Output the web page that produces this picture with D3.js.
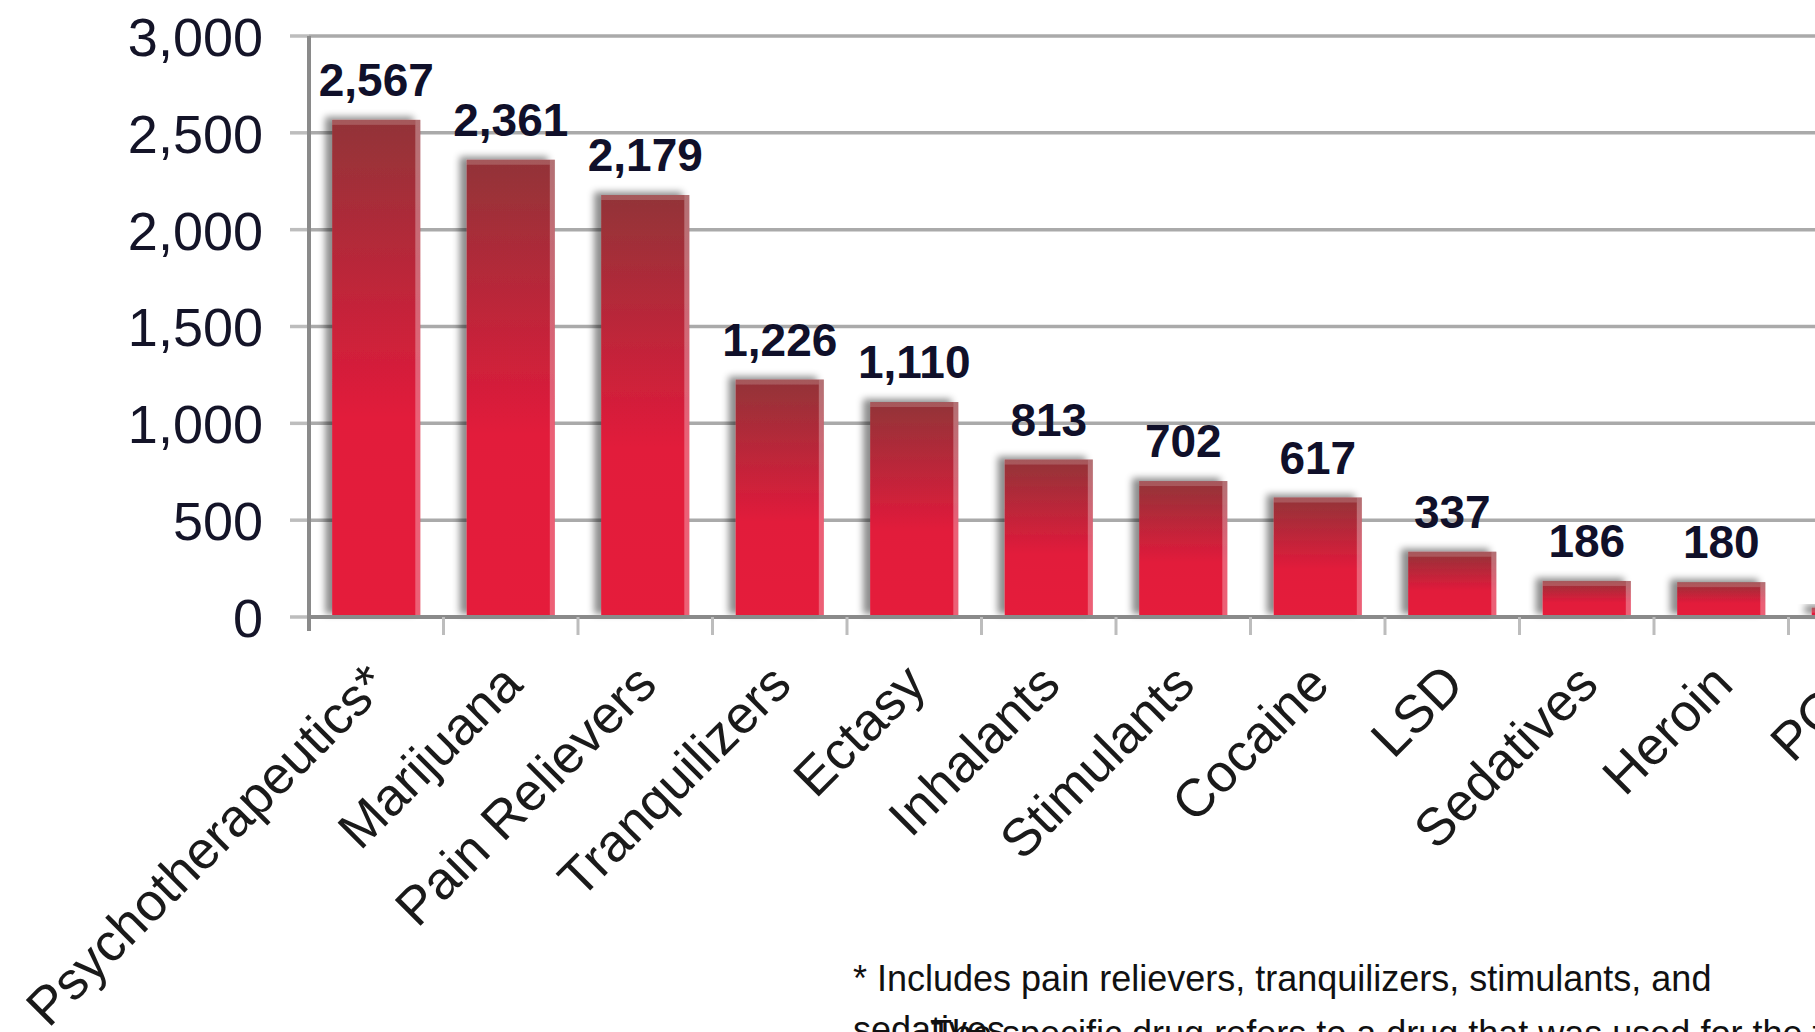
<!DOCTYPE html>
<html>
<head>
<meta charset="utf-8">
<script src="https://cdn.jsdelivr.net/npm/d3@7"></script>
<style>
  html, body { margin: 0; padding: 0; background: #fff; overflow: hidden; }
  svg { display: block; }
</style>
</head>
<body>
<svg id="chart" width="1815" height="1032"></svg>
<script>
// ---- data ----
const categories = ["Psychotherapeutics*", "Marijuana", "Pain Relievers", "Tranquilizers", "Ectasy",
  "Inhalants", "Stimulants", "Cocaine", "LSD", "Sedatives", "Heroin", "PCP"];
const values = [2567, 2361, 2179, 1226, 1110, 813, 702, 617, 337, 186, 180, 48];
const yTicks = [0, 500, 1000, 1500, 2000, 2500, 3000];
const footnoteLines = ["* Includes pain relievers, tranquilizers, stimulants, and", "sedatives."];
const footnoteOverlap = "The specific drug refers to a drug that was used for the first time.";

// ---- layout ----
const W = 1815, H = 1032;
const x0 = 309, step = 134.5, baseY = 617, topY = 36;

const svg = d3.select("#chart");

const y = d3.scaleLinear().domain([0, 3000]).range([baseY, topY]);
const x = d3.scaleBand()
  .domain(categories)
  .range([x0, x0 + step * categories.length])
  .paddingInner(0.345)
  .paddingOuter(0.1725);

const defs = svg.append("defs");
const grad = defs.append("linearGradient")
  .attr("id", "barGrad").attr("x1", 0).attr("y1", 0).attr("x2", 0).attr("y2", 1);
grad.append("stop").attr("offset", "0%").attr("stop-color", "#923439");
grad.append("stop").attr("offset", "60%").attr("stop-color", "#e21a3a");
grad.append("stop").attr("offset", "100%").attr("stop-color", "#e51a3b");

const shadow = defs.append("filter").attr("id", "shadow")
  .attr("x", "-30%").attr("y", "-30%").attr("width", "160%").attr("height", "160%");
shadow.append("feDropShadow")
  .attr("dx", -7).attr("dy", -3).attr("stdDeviation", 3.5)
  .attr("flood-color", "#000").attr("flood-opacity", 0.45);

// gridlines
svg.append("g").selectAll("line")
  .data(yTicks.filter(d => d > 0))
  .join("line")
  .attr("x1", x0).attr("x2", W)
  .attr("y1", d => y(d)).attr("y2", d => y(d))
  .attr("stroke", "#aaaaaa").attr("stroke-width", 3.5);

// y axis tick marks
svg.append("g").selectAll("line")
  .data(yTicks)
  .join("line")
  .attr("x1", x0 - 19).attr("x2", x0)
  .attr("y1", d => y(d)).attr("y2", d => y(d))
  .attr("stroke", "#bdbdbd").attr("stroke-width", 3.5);

// y axis labels
const yAxis = d3.axisLeft(y).tickValues(yTicks).tickFormat(d3.format(",")).tickSize(0).tickPadding(0);
const yG = svg.append("g").attr("transform", `translate(${x0 - 46},0)`).call(yAxis);
yG.select(".domain").remove();
yG.selectAll("text")
  .attr("font-family", "'Liberation Sans', Arial, sans-serif")
  .attr("font-size", 54)
  .attr("fill", "#141428")
  .attr("dy", "0.36em");

// bars
const barG = svg.append("g");
const bars = barG.selectAll("g.bar")
  .data(categories.map((c, i) => ({ c, v: values[i] })))
  .join("g").attr("class", "bar");

bars.append("rect")
  .attr("x", d => x(d.c))
  .attr("y", d => y(d.v))
  .attr("width", x.bandwidth())
  .attr("height", d => baseY - y(d.v))
  .attr("fill", "url(#barGrad)")
  .attr("filter", "url(#shadow)");

// right highlight strip
bars.append("rect")
  .attr("x", d => x(d.c) + x.bandwidth() - 5)
  .attr("y", d => y(d.v))
  .attr("width", 5)
  .attr("height", d => baseY - y(d.v))
  .attr("fill", "#fff").attr("fill-opacity", 0.3);
// top highlight strip
bars.append("rect")
  .attr("x", d => x(d.c))
  .attr("y", d => y(d.v))
  .attr("width", x.bandwidth() - 5)
  .attr("height", 5)
  .attr("fill", "#fff").attr("fill-opacity", 0.18);

// value labels
bars.append("text")
  .attr("x", d => x(d.c) + x.bandwidth() / 2)
  .attr("y", d => y(d.v) - 24)
  .attr("text-anchor", "middle")
  .attr("font-family", "'Liberation Sans', Arial, sans-serif")
  .attr("font-weight", "bold")
  .attr("font-size", 46)
  .attr("fill", "#10102a")
  .text(d => d3.format(",")(d.v));

// y axis line
svg.append("line")
  .attr("x1", x0).attr("x2", x0)
  .attr("y1", topY).attr("y2", baseY + 14)
  .attr("stroke", "#8a8a8a").attr("stroke-width", 4);

// x axis baseline
svg.append("line")
  .attr("x1", x0).attr("x2", W)
  .attr("y1", baseY).attr("y2", baseY)
  .attr("stroke", "#8a8a8a").attr("stroke-width", 4);

// x tick marks at category boundaries
svg.append("g").selectAll("line")
  .data(categories.slice(1))
  .join("line")
  .attr("x1", d => x(d) - x.step() * x.paddingInner() / 2)
  .attr("x2", d => x(d) - x.step() * x.paddingInner() / 2)
  .attr("y1", baseY).attr("y2", baseY + 18)
  .attr("stroke", "#bdbdbd").attr("stroke-width", 3);

// x labels rotated
svg.append("g").selectAll("text")
  .data(categories)
  .join("text")
  .attr("transform", d => `translate(${x(d) + x.bandwidth() / 2 + 14},${baseY + 70}) rotate(-45)`)
  .attr("text-anchor", "end")
  .attr("font-family", "'Liberation Sans', Arial, sans-serif")
  .attr("font-size", 53)
  .attr("fill", "#1a1a1a")
  .text(d => d);

// footnote
const fn = svg.append("g").attr("font-family", "'Liberation Sans', Arial, sans-serif")
  .attr("font-size", 36).attr("fill", "#111");
fn.append("text").attr("x", 853).attr("y", 991).text(footnoteLines[0]);
fn.append("text").attr("x", 853).attr("y", 1042).text(footnoteLines[1]);
fn.append("text").attr("x", 930).attr("y", 1046).text(footnoteOverlap);
</script>
</body>
</html>
